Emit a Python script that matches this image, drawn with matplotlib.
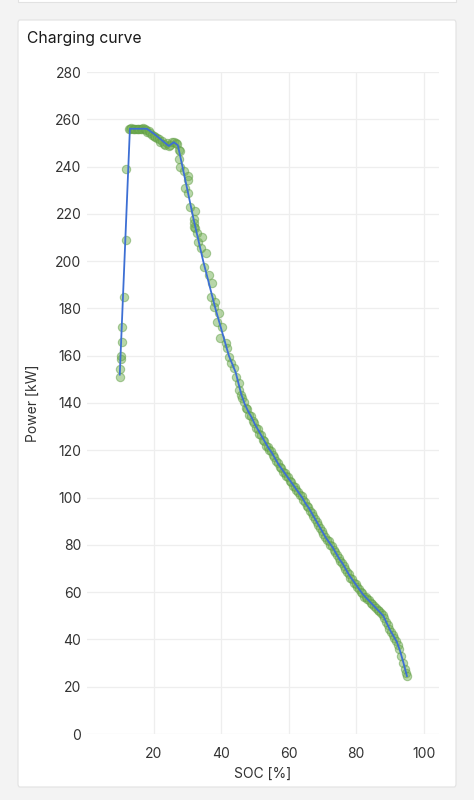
import matplotlib
matplotlib.use("Agg")
import matplotlib.pyplot as plt
from matplotlib.patches import FancyBboxPatch, Rectangle

plt.rcParams['font.family'] = ['Inter', 'DejaVu Sans']

# ---- data ----
title = "Charging curve"
x_label = "SOC [%]"
y_label = "Power [kW]"
x_ticks = [20, 40, 60, 80, 100]
y_ticks = [0, 20, 40, 60, 80, 100, 120, 140, 160, 180, 200, 220, 240, 260, 280]

line_soc = [10, 13, 18, 20, 23, 24.5, 26, 27.2, 29, 31.9, 34.7, 38.3, 42.3, 44.3,
            46, 47, 48, 49, 50, 51, 52, 53, 54, 55, 56, 57, 58, 59, 60, 61, 62, 63,
            64, 65, 66, 67, 68, 69, 70, 71, 72, 73, 74, 75, 76, 77, 78, 79, 80, 81,
            82, 83, 84, 85, 86, 87, 88, 89, 90, 91, 92, 93, 94, 95]
line_kw = [152, 256, 256, 254, 250.5, 248.7, 250.3, 249, 237, 217.4, 200, 180, 160, 153,
           143.5, 139.5, 136.5, 134, 131, 128.5, 126, 123.5, 121, 119, 116.5, 114, 112, 110,
           108, 106, 104, 102, 100, 97.5, 95.5, 93, 90.5, 88, 85.5, 83, 81, 79, 76.5, 74,
           72, 69.5, 67, 65, 63, 61, 59, 57.5, 56, 54.5, 53, 51.5, 50, 47, 44, 41.5, 39,
           35, 30, 24.5]

pts_soc = [10.0, 10.1, 10.4, 10.5, 10.7, 10.8, 11.4, 11.7, 11.9,
           12.8, 13.1, 13.4, 13.8, 14.2, 14.6, 15.0, 15.4, 15.8, 16.2, 16.6, 17.0, 17.4, 17.8,
           18.2, 18.6, 19.0, 19.5, 20.0, 20.5, 21.0, 21.5, 22.0, 22.5, 23.0, 23.5, 24.0, 24.5,
           25.0, 25.5, 26.0, 26.5, 27.0, 27.5,
           27.9, 27.6, 27.9, 28.9, 30.1, 30.3, 29.4, 30.1, 30.9, 32.4, 31.9, 31.9, 32.4, 32.0,
           33.0, 33.2, 34.4, 33.9, 35.4, 34.9, 36.4, 37.3, 36.9, 38.3, 37.8, 39.3, 38.8, 40.3,
           39.8, 41.3, 41.8, 42.3, 42.8, 43.8, 44.3, 45.3, 45.3, 45.8,
           46.3, 46.8, 47.3, 47.8, 48.3, 48.8, 49.3, 49.8, 50.3, 50.8, 51.3, 51.8, 52.3, 52.8,
           53.3, 53.8, 54.3, 54.8, 55.3, 55.8, 56.3, 56.8, 57.3, 57.8, 58.3, 58.8, 59.3, 59.8,
           60.3, 60.8, 61.3, 61.8, 62.3, 62.8, 63.3, 63.8, 64.3, 64.8, 65.3, 65.8, 66.3, 66.8,
           67.3, 67.8, 68.3, 68.8, 69.3, 69.8, 70.3, 70.8, 71.3, 71.8, 72.3, 72.8, 73.3, 73.8,
           74.3, 74.8, 75.3, 75.8, 76.3, 76.8, 77.3, 77.8, 78.3, 78.8, 79.3, 79.8, 80.3, 80.8,
           81.3, 81.8, 82.3, 82.8, 83.3, 83.8, 84.3, 84.8, 85.3, 85.8, 86.3, 86.8, 87.3, 87.8,
           88.3, 88.8, 89.3, 89.8, 90.3, 90.8, 91.3, 91.8, 92.3, 92.8, 93.3, 93.8, 94.3, 94.6,
           95.0]
pts_kw = [151, 154.5, 158.5, 160, 166, 172, 185, 209, 239,
          256, 256, 256.5, 256, 256, 256, 256, 256, 256, 256, 256, 256.5, 256, 255.5,
          254.5, 255, 254, 253.5, 253, 252.5, 252, 251.5, 250.5, 251, 249.5, 249, 250, 248.5,
          249, 250.5, 250.5, 250, 249.5, 247,
          246.6, 243, 240, 238, 236, 234.3, 230.8, 229, 223, 221, 218, 216, 214, 214.6,
          212, 208, 210.4, 205.4, 203.3, 197.7, 194.2, 190.6, 185, 182.9, 180.5, 177.9, 174.4, 172.3,
          167.4, 165.3, 163.2, 159.6, 156.8, 154.7, 151.1, 148.4, 145.5, 143.4,
          142, 140.5, 138, 137.5, 135, 134.5, 132.5, 131.5, 129.5, 129, 127, 126.5, 124.5, 124,
          122, 121.5, 120, 119.5, 118, 117, 115.5, 114.5, 113, 112.5, 111, 110.5, 109, 108.5,
          107, 106.5, 105, 104.5, 103, 102.5, 101, 100.5, 99, 98, 96.5, 96, 94.5, 93.5,
          92, 91, 89.5, 88.5, 87, 86, 84.5, 83.5, 82, 81.5, 80, 79.5, 78, 77,
          75.5, 74.5, 73, 72.5, 71, 70, 68.5, 67.5, 66, 65.5, 64, 63.5, 62, 61.5,
          60, 59.5, 58, 58, 57, 56.5, 55.5, 55, 54, 53.5, 52.5, 52, 51, 50.5,
          49, 47.5, 46, 44.5, 43, 42, 40.5, 39.5, 37.5, 36, 33, 30, 27.5, 26,
          24.5]

# ---- figure ----
W, H = 474, 800
fig = plt.figure(figsize=(W / 100, H / 100), dpi=100)
fig.patch.set_facecolor('#f3f3f3')

# cards
fig.patches.append(Rectangle((18 / W, 1 - 2 / H), 438 / W, 10 / H, transform=fig.transFigure,
                             facecolor='white', edgecolor='#e2e2e2', lw=0.8, zorder=-5))
fig.patches.append(FancyBboxPatch((18 / W, 1 - 787 / H), 438 / W, 767 / H,
                                  boxstyle="round,pad=0,rounding_size=0.004",
                                  transform=fig.transFigure, facecolor='white',
                                  edgecolor='#e2e2e2', lw=0.8, zorder=-5))

fig.text(27 / W, 1 - 38 / H, title, fontsize=11.3, fontweight='normal',
         color='#1a1a1a', va='center', ha='left')

ax = fig.add_axes([87 / W, 1 - 734 / H, (439 - 87) / W, (734 - 72) / H])
ax.set_facecolor('none')
ax.scatter(pts_soc, pts_kw, s=36, facecolor=(0.45, 0.69, 0.33, 0.5),
           edgecolor=(0.38, 0.62, 0.27, 0.5), linewidths=0.8, zorder=2)
ax.plot(line_soc, line_kw, color='#3d6fd4', lw=1.3, zorder=3)

ax.set_xlim(0.3, 104.5)
ax.set_ylim(0, 280)
ax.set_xticks(x_ticks)
ax.set_yticks(y_ticks)
ax.grid(True, color='#eeeeee', lw=0.9, zorder=0)
ax.set_axisbelow(True)
for s in ax.spines.values():
    s.set_visible(False)
ax.tick_params(axis='both', length=0, labelsize=10, labelcolor='#333333')
ax.tick_params(axis='y', pad=4)
ax.tick_params(axis='x', pad=9)

ax.set_xlabel(x_label, fontsize=10, color='#333333')
ax.xaxis.label.set_va('center')
ax.xaxis.set_label_coords(0.5, (734 - 774) / 662)
ax.set_ylabel(y_label, fontsize=10, color='#333333')
ax.yaxis.label.set_va('center')
ax.yaxis.set_label_coords((33 - 87) / 352, 0.5)

fig.savefig('out.png', dpi=100, facecolor=fig.get_facecolor())
